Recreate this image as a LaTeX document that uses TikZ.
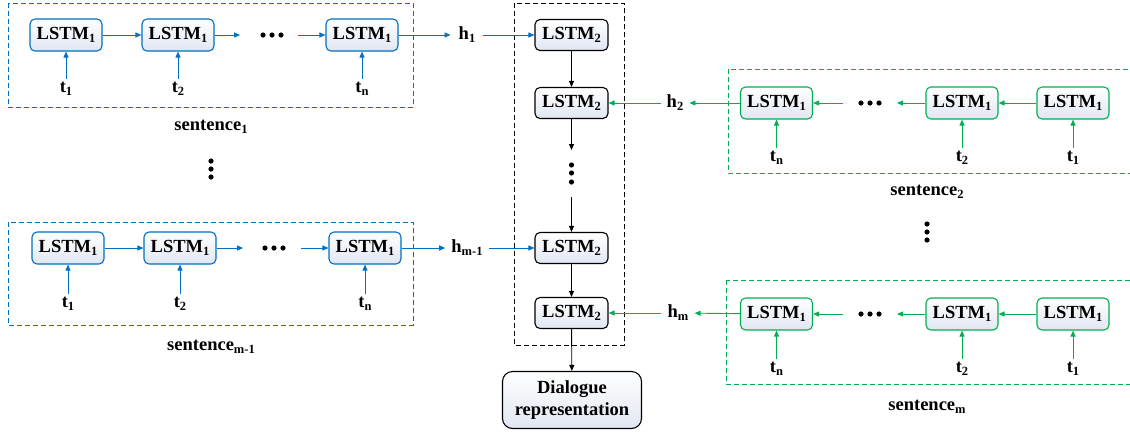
\documentclass[tikz,border=0pt]{standalone}
\usepackage{fontspec}
\setmainfont{Liberation Serif}
\usetikzlibrary{arrows.meta}
\definecolor{cblue}{RGB}{0,112,192}
\definecolor{cgreen}{RGB}{0,176,80}
\definecolor{cfill}{RGB}{224,230,242}
\newcommand\sbs[1]{\raisebox{-0.35ex}{\fontsize{12.5}{13}\selectfont #1}}
\begin{document}
\begin{tikzpicture}[x=1pt,y=-1pt,
  every node/.style={font=\fontsize{18.5}{20}\selectfont\bfseries, inner sep=0pt},
  cell/.style={rounded corners=5pt, line width=1.1pt, minimum width=72pt, minimum height=32pt,
    top color=white, bottom color=cfill},
  bcell/.style={cell, draw=cblue},
  gcell/.style={cell, draw=cgreen},
  kcell/.style={cell, draw=black, minimum width=73pt, minimum height=31pt},
  tok/.style={text height=12pt, text depth=3pt, inner sep=1pt},
  hlab/.style={inner xsep=6pt},
  arr/.style={-{Triangle[length=6pt,width=5pt]}, line width=0.9pt},
  barr/.style={arr, color=cblue},
  garr/.style={arr, color=cgreen},
  karr/.style={arr, color=black},
  dotc/.style={fill=black},
  frame/.style={line width=1pt, dash pattern=on 5pt off 3pt}
]
\useasboundingbox (0,0) rectangle (1130,432);

% ---------- sentence 1 (top left) ----------
\draw[frame, draw=cblue] (8,3) rectangle (413,107);
\node[bcell] (a1) at (66,35) {LSTM\sbs{1}};
\node[bcell] (a2) at (178,35) {LSTM\sbs{1}};
\node[bcell] (a3) at (362,35) {LSTM\sbs{1}};
\coordinate (ad1) at (240,35);
\coordinate (ad2) at (298,35);
\foreach \x in {263,272,281} \fill[dotc] (\x,35) circle (2.6pt);
\node[tok] (at1) at (66,88) {t\sbs{1}};
\node[tok] (at2) at (178,88) {t\sbs{2}};
\node[tok] (atn) at (362,88) {t\sbs{n}};
\node (s1) at (211,127) {sentence\sbs{1}};
\node[hlab, inner xsep=8pt] (h1) at (467,35) {h\sbs{1}};
\draw[barr] (a1) -- (a2);
\draw[barr] (a2) -- (ad1);
\draw[barr] (ad2) -- (a3);
\draw[barr] (at1) -- (a1);
\draw[barr] (at2) -- (a2);
\draw[barr] (atn) -- (a3);
\draw[barr] (a3) -- (h1);

% vertical dots left
\foreach \y in {161,169,177} \fill[dotc] (211,\y) circle (2.6pt);

% ---------- sentence m-1 (bottom left) ----------
\draw[frame, draw=cblue] (8,222) rectangle (413,325);
\node[bcell] (b1) at (68,248) {LSTM\sbs{1}};
\node[bcell] (b2) at (180,248) {LSTM\sbs{1}};
\node[bcell] (b3) at (365,248) {LSTM\sbs{1}};
\coordinate (bd1) at (243,248);
\coordinate (bd2) at (301,248);
\foreach \x in {265,274,283} \fill[dotc] (\x,248) circle (2.6pt);
\node[tok] (bt1) at (68,303) {t\sbs{1}};
\node[tok] (bt2) at (180,303) {t\sbs{2}};
\node[tok] (btn) at (365,303) {t\sbs{n}};
\node (s2) at (211,347) {sentence\sbs{m-1}};
\node[hlab] (hm1) at (467,248) {h\sbs{m-1}};
\draw[barr] (b1) -- (b2);
\draw[barr] (b2) -- (bd1);
\draw[barr] (bd2) -- (b3);
\draw[barr] (bt1) -- (b1);
\draw[barr] (bt2) -- (b2);
\draw[barr] (btn) -- (b3);
\draw[barr] (b3) -- (hm1);

% ---------- middle column ----------
\draw[frame, draw=black] (514,3) rectangle (624,345);
\node[kcell] (m1) at (571.5,35) {LSTM\sbs{2}};
\node[kcell] (m2) at (571.5,103) {LSTM\sbs{2}};
\node[kcell] (m3) at (571.5,248) {LSTM\sbs{2}};
\node[kcell] (m4) at (571.5,313) {LSTM\sbs{2}};
\node[cell, draw=black, rounded corners=10pt, minimum width=139pt, minimum height=57pt,
      align=center, font=\fontsize{18.5}{22}\selectfont\bfseries] (dr) at (572,400)
      {Dialogue\\representation};
\coordinate (md1) at (571.5,150);
\coordinate (md2) at (571.5,197);
\foreach \y in {165,173,182} \fill[dotc] (571.5,\y) circle (2.6pt);
\draw[karr] (m1) -- (m2);
\draw[karr] (m2) -- (md1);
\draw[karr] (md2) -- (m3);
\draw[karr] (m3) -- (m4);
\draw[karr] (m4) -- (dr);
\draw[barr] (h1) -- (m1);
\draw[barr] (hm1) -- (m3);

% ---------- sentence 2 (top right) ----------
\draw[frame, draw=cgreen] (728,69) rectangle (1140,173);
\node[gcell] (c1) at (776.5,103) {LSTM\sbs{1}};
\node[gcell] (c2) at (962,103) {LSTM\sbs{1}};
\node[gcell] (c3) at (1073,103) {LSTM\sbs{1}};
\coordinate (cd1) at (897,103);
\coordinate (cd2) at (843,103);
\foreach \x in {861,870,879} \fill[dotc] (\x,103) circle (2.6pt);
\node[tok] (ctn) at (776.5,157) {t\sbs{n}};
\node[tok] (ct2) at (962,157) {t\sbs{2}};
\node[tok] (ct1) at (1073,157) {t\sbs{1}};
\node (s3) at (927,192) {sentence\sbs{2}};
\node[hlab] (h2) at (675,103) {h\sbs{2}};
\draw[garr] (c3) -- (c2);
\draw[garr] (c2) -- (cd1);
\draw[garr] (cd2) -- (c1);
\draw[garr] (ctn) -- (c1);
\draw[garr] (ct2) -- (c2);
\draw[garr] (ct1) -- (c3);
\draw[garr] (c1) -- (h2);
\draw[garr] (h2) -- (m2);

% vertical dots right
\foreach \y in {224,232,240} \fill[dotc] (927,\y) circle (2.6pt);

% ---------- sentence m (bottom right) ----------
\draw[frame, draw=cgreen] (726,280) rectangle (1140,384);
\node[gcell] (e1) at (776.5,314) {LSTM\sbs{1}};
\node[gcell] (e2) at (962,314) {LSTM\sbs{1}};
\node[gcell] (e3) at (1073,314) {LSTM\sbs{1}};
\coordinate (ed1) at (897,314);
\coordinate (ed2) at (843,314);
\foreach \x in {861,870,879} \fill[dotc] (\x,314) circle (2.6pt);
\node[tok] (etn) at (776.5,368) {t\sbs{n}};
\node[tok] (et2) at (962,368) {t\sbs{2}};
\node[tok] (et1) at (1073,368) {t\sbs{1}};
\node (s4) at (927,407) {sentence\sbs{m}};
\node[hlab] (hm) at (678,313) {h\sbs{m}};
\draw[garr] (e3) -- (e2);
\draw[garr] (e2) -- (ed1);
\draw[garr] (ed2) -- (e1);
\draw[garr] (etn) -- (e1);
\draw[garr] (et2) -- (e2);
\draw[garr] (et1) -- (e3);
\draw[garr] (e1) -- (hm);
\draw[garr] (hm) -- (m4);
\end{tikzpicture}
\end{document}
